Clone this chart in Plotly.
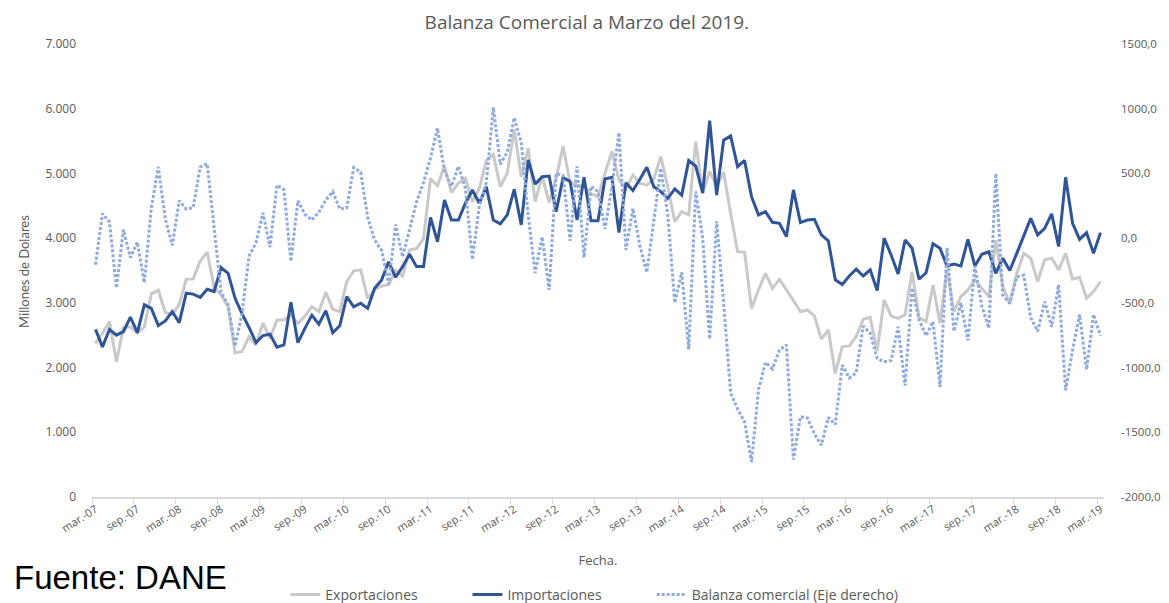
import plotly.graph_objects as go

# Monthly data, mar-07 .. mar-19 (145 months)
exportaciones = [
    2375, 2530, 2710, 2090, 2620, 2630, 2530, 2630, 3140, 3195, 2850, 2820, 2975, 3365, 3370, 3645, 3785, 3240, 3120, 2940,
    2230, 2250, 2480, 2350, 2690, 2450, 2735, 2735, 2815, 2685, 2795, 2940, 2865, 3165, 2900, 2865, 3330, 3495, 3510, 3070,
    3210, 3260, 3280, 3500, 3415, 3815, 3840, 3990, 4920, 4810, 5115, 4705, 4850, 4925, 4565, 4770, 5200, 5295, 4795, 5005,
    5680, 4950, 5390, 4565, 4960, 4550, 4925, 5425, 4855, 4820, 4790, 4685, 4640, 5000, 5340, 4900, 4765, 4975, 4850, 4820,
    4915, 5260, 4795, 4255, 4410, 4360, 5490, 4700, 5030, 4795, 5020, 4385, 3790, 3780, 2915, 3200, 3455, 3225, 3365, 3200,
    3030, 2865, 2890, 2800, 2440, 2580, 1910, 2325, 2335, 2480, 2745, 2775, 2260, 3045, 2795, 2760, 2815, 3480, 2775, 2710,
    3275, 2685, 3510, 2865, 3095, 3200, 3355, 3225, 3095, 3970, 3250, 2995, 3455, 3765, 3690, 3330, 3665, 3690, 3510, 3765,
    3365, 3395, 3070, 3175, 3330,
]
importaciones = [
    2590, 2320, 2590, 2500, 2555, 2780, 2540, 2970, 2915, 2650, 2720, 2865, 2695, 3150, 3135, 3085, 3210, 3175, 3545, 3455,
    3070, 2830, 2620, 2385, 2495, 2515, 2315, 2350, 3010, 2385, 2605, 2810, 2670, 2880, 2540, 2645, 3095, 2940, 2995, 2915,
    3225, 3355, 3635, 3395, 3560, 3750, 3560, 3560, 4320, 3945, 4590, 4280, 4280, 4540, 4745, 4540, 4795, 4280, 4220, 4360,
    4755, 4205, 5210, 4835, 4950, 4960, 4410, 4935, 4875, 4280, 4940, 4270, 4270, 4915, 4940, 4085, 4855, 4735, 4910, 5095,
    4795, 4720, 4615, 4760, 4665, 5200, 5115, 4695, 5815, 4665, 5515, 5580, 5105, 5200, 4640, 4360, 4410, 4245, 4230, 4025,
    4745, 4240, 4280, 4290, 4050, 3960, 3355, 3285, 3415, 3520, 3415, 3510, 3190, 4000, 3740, 3445, 3970, 3845, 3365, 3465,
    3915, 3845, 3570, 3600, 3570, 3980, 3570, 3750, 3790, 3455, 3690, 3500, 3765, 4050, 4305, 4050, 4150, 4375, 3870, 4940,
    4230, 3980, 4085, 3765, 4085,
]
balanza = [
    -205, 190, 125, -385, 65, -150, -30, -345, 235, 550, 150, -55, 290, 225, 235, 550, 575, 80, -420, -515,
    -835, -580, -140, -35, 195, -70, 410, 375, -180, 290, 185, 140, 200, 295, 360, 225, 235, 545, 510, 160,
    -15, -95, -355, 105, -145, 65, 280, 430, 620, 850, 520, 400, 555, 385, -165, 250, 430, 1010, 570, 665,
    930, 740, 175, -270, 10, -400, 500, 485, -20, 555, -150, 400, 360, 70, 400, 815, -90, 230, -60, -265,
    120, 540, 180, -500, -265, -860, 360, 0, -780, 130, -500, -1195, -1320, -1420, -1730, -1170, -960, -1010, -865, -825,
    -1710, -1380, -1390, -1510, -1600, -1385, -1440, -980, -1080, -1040, -680, -735, -930, -955, -945, -685, -1140, -385, -630, -755,
    -645, -1150, -75, -720, -500, -790, -215, -525, -695, 500, -440, -505, -300, -285, -615, -720, -490, -685, -360, -1175,
    -865, -590, -1015, -590, -755,
]

x_tick_labels = [
    "mar.-07", "sep.-07", "mar.-08", "sep.-08", "mar.-09", "sep.-09", "mar.-10", "sep.-10", "mar.-11",
    "sep.-11", "mar.-12", "sep.-12", "mar.-13", "sep.-13", "mar.-14", "sep.-14", "mar.-15", "sep.-15",
    "mar.-16", "sep.-16", "mar.-17", "sep.-17", "mar.-18", "sep.-18", "mar.-19",
]
left_tick_vals = [0, 1000, 2000, 3000, 4000, 5000, 6000, 7000]
left_tick_text = ["0", "1.000", "2.000", "3.000", "4.000", "5.000", "6.000", "7.000"]
right_tick_vals = [-2000, -1500, -1000, -500, 0, 500, 1000, 1500]
right_tick_text = ["-2000,0", "-1500,0", "-1000,0", "-500,0", "0,0", "500,0", "1000,0", "1500,0"]

months = list(range(len(exportaciones)))
tick_pos = [months[i] for i in range(0, len(months), 6)]
boundary_pos = [p - 0.5 for p in tick_pos]

TXT = "#595959"
fig = go.Figure()
fig.add_trace(go.Scatter(x=months, y=exportaciones, name="Exportaciones", mode="lines",
                         line=dict(color="#C9C9C9", width=3), legend="legend"))
fig.add_trace(go.Scatter(x=months, y=importaciones, name="Importaciones", mode="lines",
                         line=dict(color="#2F5597", width=3), legend="legend2"))
fig.add_trace(go.Scatter(x=months, y=balanza, name="Balanza comercial (Eje derecho)", mode="lines",
                         line=dict(color="#8FAADC", width=3, dash="3px,2px"), yaxis="y2", legend="legend3"))

leg_common = dict(orientation="h", xanchor="left", y=-0.216, yanchor="middle",
                  font=dict(family="Open Sans", size=14, color=TXT), bgcolor="rgba(0,0,0,0)",
                  itemwidth=30)

# the page body adds an 8px offset, so the figure is sized to fill the rest of the window
fig.update_layout(
    width=1161, height=595, autosize=False,
    margin=dict(l=84, r=65, t=36, b=106, autoexpand=False),
    paper_bgcolor="white", plot_bgcolor="white",
    title=dict(text="Balanza Comercial a Marzo del 2019.", x=0.489, xref="paper", xanchor="center",
               y=0.9765, yref="container", yanchor="middle", automargin=False,
               font=dict(family="Open Sans", size=19, color=TXT)),
    xaxis=dict(range=[-0.5, len(months) - 0.5], tickvals=tick_pos, ticktext=x_tick_labels,
               tickangle=-33, ticks="", showgrid=False, zeroline=False, automargin=False,
               showline=True, linecolor="#D9D9D9", linewidth=1.5,
               minor=dict(tickvals=boundary_pos, ticks="outside", ticklen=5, tickcolor="#D9D9D9", tickwidth=1),
               tickfont=dict(family="Open Sans", size=11, color=TXT),
               title=dict(text="Fecha.", font=dict(family="Open Sans", size=13, color=TXT), standoff=22)),
    yaxis=dict(range=[0, 7000], tickvals=left_tick_vals, ticktext=left_tick_text,
               showgrid=False, zeroline=False, showline=False, ticks="", automargin=False,
               ticklabelstandoff=15,
               tickfont=dict(family="Open Sans", size=12, color=TXT)),
    yaxis2=dict(range=[-2000, 1500], tickvals=right_tick_vals, ticktext=right_tick_text,
                overlaying="y", side="right", showgrid=False, zeroline=False, showline=False, ticks="",
                ticklabelstandoff=16, automargin=False,
                tickfont=dict(family="Open Sans", size=11.5, color=TXT)),
    legend=dict(leg_common, x=0.191),
    legend2=dict(leg_common, x=0.371),
    legend3=dict(leg_common, x=0.553),
    showlegend=True,
)

fig.add_annotation(text="Millones de Dolares", xref="paper", yref="paper", x=-0.0672, y=0.499,
                   xanchor="center", yanchor="middle", textangle=-90, showarrow=False,
                   font=dict(family="Lato", size=13, color=TXT))
fig.add_annotation(text="Fuente: DANE", xref="paper", yref="paper", x=-0.079, y=-0.177,
                   xanchor="left", yanchor="middle", showarrow=False,
                   font=dict(family="Liberation Sans", size=33, color="black"))

fig.write_html("out.html")
